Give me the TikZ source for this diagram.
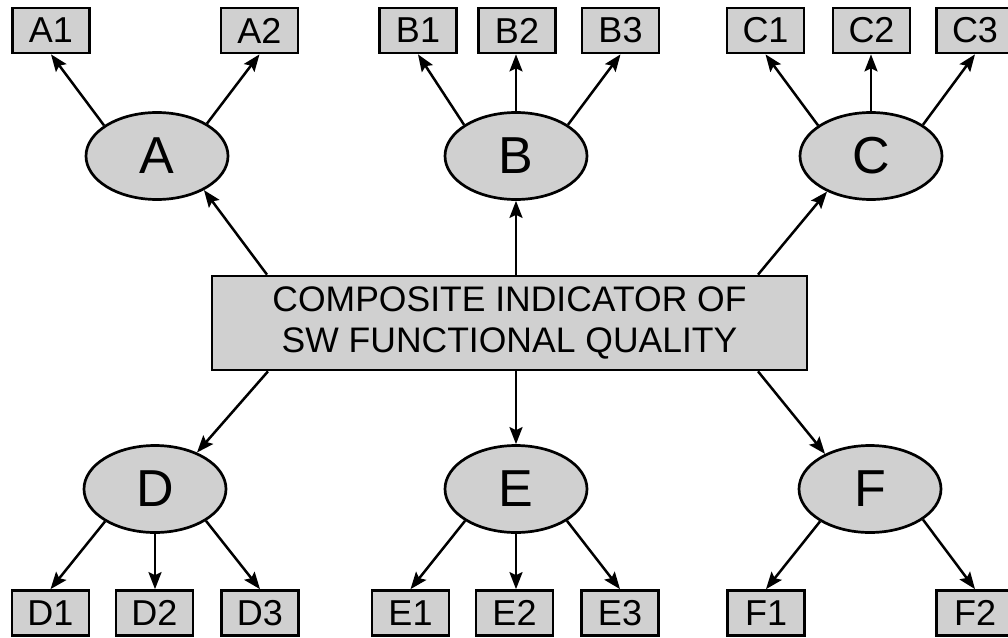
\documentclass[tikz,border=0pt]{standalone}
\usepackage{fontspec}
\setmainfont{Liberation Sans}
\usetikzlibrary{shapes.geometric,arrows.meta,calc}
\definecolor{boxgray}{RGB}{208,208,208}
\begin{document}
\begin{tikzpicture}[x=1pt,y=-1pt,
  ind/.style={draw, line width=2.7pt, fill=boxgray, minimum width=77pt, minimum height=45pt, inner sep=0pt, font=\fontsize{36}{36}\selectfont},
  lat/.style={ellipse, draw, line width=2.7pt, fill=boxgray, minimum width=142pt, minimum height=87pt, inner sep=0pt, font=\fontsize{52}{52}\selectfont},
  comp/.style={draw, line width=2.7pt, fill=boxgray, minimum width=595pt, minimum height=94pt, inner sep=0pt, align=center, font=\fontsize{35.5}{41.5}\selectfont},
  arr/.style={line width=2.5pt, -{Stealth[length=17pt,width=13pt,inset=3pt]}}]
\useasboundingbox (0,0) rectangle (1008,637);
\clip (0,0) rectangle (1008,637);
% central box
\node[comp] (M) at (509.5,323) {COMPOSITE INDICATOR OF\\SW FUNCTIONAL QUALITY};
% latent ellipses
\node[lat] (A) at (157,156) {A};
\node[lat] (B) at (516,156) {B};
\node[lat] (C) at (871,156) {C};
\node[lat] (D) at (155,489) {D};
\node[lat] (E) at (516,489) {E};
\node[lat] (F) at (870,489) {F};
% indicators top
\node[ind] (A1) at (51,30.5) {A1};
\node[ind] (A2) at (259.5,30.5) {A2};
\node[ind] (B1) at (418,30.5) {B1};
\node[ind] (B2) at (517,30.5) {B2};
\node[ind] (B3) at (620.5,30.5) {B3};
\node[ind] (C1) at (765.5,30.5) {C1};
\node[ind] (C2) at (871.5,30.5) {C2};
\node[ind] (C3) at (975,30.5) {C3};
% indicators bottom
\node[ind] (D1) at (50.5,613) {D1};
\node[ind] (D2) at (154.5,613) {D2};
\node[ind] (D3) at (260,613) {D3};
\node[ind] (E1) at (410.5,613) {E1};
\node[ind] (E2) at (514.5,613) {E2};
\node[ind] (E3) at (620,613) {E3};
\node[ind] (F1) at (766,613) {F1};
\node[ind] (F2) at (975,613) {F2};
% central to latent
\draw[arr] ([xshift=-242.5pt]M.north) -- (A.-36);
\draw[arr] (M.north -| B.south) -- (B.south);
\draw[arr] ([xshift=248.5pt]M.north) -- (C.219);
\draw[arr] ([xshift=-241.5pt]M.south) -- (D.41);
\draw[arr] (M.south -| E.north) -- (E.north);
\draw[arr] ([xshift=248.5pt]M.south) -- (F.142);
% latent to indicators
\draw[arr] (A.150) -- (A1.south);
\draw[arr] (A.33) -- (A2.south);
\draw[arr] (B.149) -- (B1.south);
\draw[arr] (B.north) -- (B.north |- B2.south);
\draw[arr] (B.31) -- (B3.south);
\draw[arr] (C.150) -- (C1.south);
\draw[arr] (C.north) -- (C.north |- C2.south);
\draw[arr] (C.31) -- (C3.south);
\draw[arr] (D.-147) -- (D1.north);
\draw[arr] (D.south) -- (D.south |- D2.north);
\draw[arr] (D.-32) -- (D3.north);
\draw[arr] (E.-148) -- (E1.north);
\draw[arr] (E.south) -- (E.south |- E2.north);
\draw[arr] (E.-32) -- (E3.north);
\draw[arr] (F.-147) -- (F1.north);
\draw[arr] (F.-30) -- (F2.north);
\end{tikzpicture}
\end{document}
